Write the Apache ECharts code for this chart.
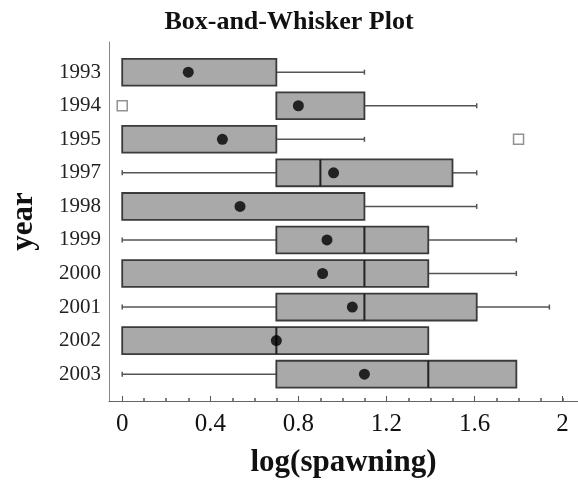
<!DOCTYPE html>
<html>
<head>
<meta charset="utf-8">
<script src="https://cdn.jsdelivr.net/npm/echarts@6/dist/echarts.min.js"></script>
<style>html,body{margin:0;padding:0;background:#fff}#chart{width:578px;height:483px}</style>
</head>
<body>
<div id="chart"></div>
<script>
const categories = ['1993','1994','1995','1997','1998','1999','2000','2001','2002','2003'];
const whiskerLow  = [0,    0.70, 0,    0,    0,    0,    0,    0,    0,    0   ];
const q1Values    = [0,    0.70, 0,    0.70, 0,    0.70, 0,    0.70, 0,    0.70];
const medianValues= [0,    0.70, 0,    0.90, 0,    1.10, 1.10, 1.10, 0.70, 1.39];
const q3Values    = [0.70, 1.10, 0.70, 1.50, 1.10, 1.39, 1.39, 1.61, 1.39, 1.79];
const whiskerHigh = [1.10, 1.61, 1.10, 1.61, 1.61, 1.79, 1.79, 1.94, 1.39, 1.79];
const meanValues  = [0.30, 0.80, 0.455,0.96, 0.535,0.93, 0.91, 1.045,0.70, 1.10];
const outlierYears  = ['1994','1995'];
const outlierValues = [0, 1.80];
const xTickValues = [0, 0.4, 0.8, 1.2, 1.6, 2];
const xTickLabels = ['0','0.4','0.8','1.2','1.6','2'];
const xMinorTicks = [0.1,0.2,0.3,0.5,0.6,0.7,0.9,1.0,1.1,1.3,1.4,1.5,1.7,1.8,1.9,2.0];

const FONT = '"Liberation Serif", "Times New Roman", serif';
const boxData = categories.map((c, i) => [i, whiskerLow[i], q1Values[i], medianValues[i], q3Values[i], whiskerHigh[i]]);
const meanData = categories.map((c, i) => [meanValues[i], i]);
const outlierData = outlierYears.map((y, k) => [outlierValues[k], categories.indexOf(y)]);

const chart = echarts.init(document.getElementById('chart'), null, {renderer: 'canvas'});
chart.setOption({
  animation: false,
  backgroundColor: '#fff',
  title: {
    text: 'Box-and-Whisker Plot',
    left: 'center', top: 4,
    textStyle: {fontFamily: FONT, fontWeight: 'bold', fontSize: 26, color: '#111'}
  },
  grid: {left: 108, right: 0, top: 42, bottom: 81.5},
  xAxis: [{
    type: 'value', min: -0.06, max: 2.07, position: 'bottom',
    name: 'log(spawning)', nameLocation: 'middle', nameGap: 46,
    nameTextStyle: {fontFamily: FONT, fontWeight: 'bold', fontSize: 31, color: '#111'},
    axisLine: {show: true, onZero: false, lineStyle: {color: '#666', width: 1}},
    axisTick: {show: true, inside: true, length: 5, customValues: xTickValues, lineStyle: {color: '#555'}},
    axisLabel: {customValues: xTickValues, margin: 11, fontFamily: FONT, fontSize: 25, color: '#111',
      formatter: v => xTickLabels[xTickValues.indexOf(v)] ?? ''},
    splitLine: {show: false}
  }, {
    type: 'value', min: -0.06, max: 2.07, position: 'bottom',
    axisLine: {show: false, onZero: false},
    axisTick: {show: true, inside: true, length: 3, customValues: xMinorTicks, lineStyle: {color: '#555', width: 1.5}},
    axisLabel: {show: false},
    splitLine: {show: false}
  }],
  yAxis: {
    type: 'value', inverse: true, min: -0.9, max: 9.8,
    name: 'year', nameLocation: 'middle', nameGap: 70, nameRotate: 90,
    nameTextStyle: {fontFamily: FONT, fontWeight: 'bold', fontSize: 31, color: '#111'},
    axisLine: {show: true, onZero: false, lineStyle: {color: '#888', width: 1}},
    axisTick: {show: false},
    axisLabel: {customValues: categories.map((c, i) => i), margin: 8, fontFamily: FONT, fontSize: 21, color: '#222',
      formatter: v => categories[v] ?? ''},
    splitLine: {show: false}
  },
  series: [{
    type: 'custom',
    data: boxData,
    encode: {x: [1, 2, 3, 4, 5], y: 0},
    renderItem: function (params, api) {
      const idx = api.value(0);
      const lo = api.coord([api.value(1), idx]);
      const q1 = api.coord([api.value(2), idx]);
      const md = api.coord([api.value(3), idx]);
      const q3 = api.coord([api.value(4), idx]);
      const hi = api.coord([api.value(5), idx]);
      const h = api.size([0, 0.8])[1];
      const cy = q1[1];
      const wStyle = {stroke: '#555', lineWidth: 1.5};
      const children = [];
      if (q1[0] - lo[0] > 0.5) {
        children.push({type: 'line', shape: {x1: lo[0], y1: cy, x2: q1[0], y2: cy}, style: wStyle});
        children.push({type: 'line', shape: {x1: lo[0], y1: cy - 2.5, x2: lo[0], y2: cy + 2.5}, style: wStyle});
      }
      if (hi[0] - q3[0] > 0.5) {
        children.push({type: 'line', shape: {x1: q3[0], y1: cy, x2: hi[0], y2: cy}, style: wStyle});
        children.push({type: 'line', shape: {x1: hi[0], y1: cy - 2.5, x2: hi[0], y2: cy + 2.5}, style: wStyle});
      }
      children.push({type: 'rect', shape: {x: q1[0], y: cy - h / 2, width: q3[0] - q1[0], height: h},
        style: {fill: '#a9a9a9', stroke: '#3a3a3a', lineWidth: 1.8}});
      if (md[0] - q1[0] > 0.5 && q3[0] - md[0] > 0.5) {
        children.push({type: 'line', shape: {x1: md[0], y1: cy - h / 2, x2: md[0], y2: cy + h / 2},
          style: {stroke: '#222', lineWidth: 2}});
      }
      return {type: 'group', children: children};
    },
    z: 2
  }, {
    type: 'scatter', data: meanData, symbol: 'circle', symbolSize: 11,
    itemStyle: {color: '#000'}, z: 5
  }, {
    type: 'scatter', data: outlierData, symbol: 'rect', symbolSize: 10,
    itemStyle: {color: '#fff', borderColor: '#777', borderWidth: 1.5}, z: 5
  }]
});
</script>
</body>
</html>
